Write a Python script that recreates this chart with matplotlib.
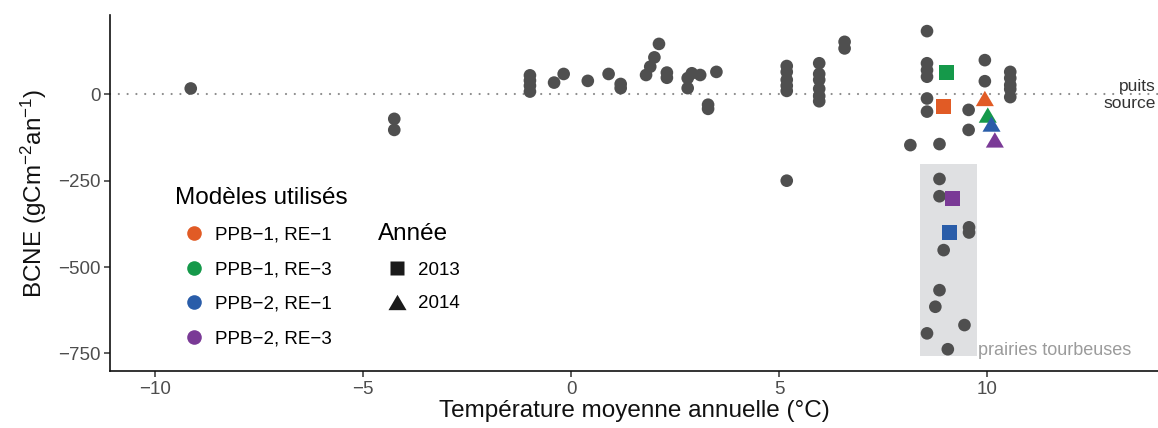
import matplotlib
matplotlib.use('Agg')
import matplotlib.pyplot as plt
from matplotlib.lines import Line2D
from matplotlib.patches import Rectangle

plt.rcParams['font.family'] = ['Liberation Sans', 'DejaVu Sans']
plt.rcParams['mathtext.fontset'] = 'custom'
plt.rcParams['mathtext.rm'] = 'Liberation Sans'
plt.rcParams['mathtext.it'] = 'Liberation Sans:italic'

# sites de la littérature
temp_sites = [-9.14,
              -4.25, -4.25,
              -0.99, -0.99, -0.99, -0.99,
              -0.41, -0.18, 0.40, 0.90, 1.19, 1.19,
              1.80, 1.90, 2.00, 2.11,
              2.30, 2.30,
              2.80, 2.80, 2.90, 3.10,
              3.29, 3.29, 3.49,
              5.18, 5.18, 5.18, 5.18, 5.18, 5.18,
              5.96, 5.96, 5.96, 5.96, 5.96, 5.96,
              6.57, 6.57,
              8.55, 8.55, 8.55, 8.55, 8.55, 8.55,
              8.15, 8.85,
              9.55, 9.55,
              9.94, 9.94,
              10.55, 10.55, 10.55, 10.55, 10.55,
              8.85, 8.85, 9.56, 9.56, 8.95, 8.85, 8.75, 9.45, 8.55, 9.05]
bcne_sites = [17,
              -71, -103,
              55, 40, 25, 8,
              34, 59, 39, 59, 30, 18,
              56, 80, 107, 146,
              63, 48,
              47, 18, 61, 56,
              -30, -42, 65,
              82, 65, 42, 25, 10, -250,
              90, 59, 42, 16, -5, -20,
              152, 133,
              183, 90, 70, 51, -12, -50,
              -147, -144,
              -45, -103,
              99, 38,
              65, 47, 27, 15, -8,
              -245, -295, -385, -400, -451, -567, -615, -668, -692, -738]

# simulations
models = ['PPB−1, RE−1', 'PPB−1, RE−3', 'PPB−2, RE−1', 'PPB−2, RE−3']
model_colors = ['#E15B25', '#15994A', '#2A5DA9', '#7A3A96']
years = ['2013', '2014']
temp_2013 = [8.95, 9.03, 9.10, 9.17]
bcne_2013 = [-34, 64, -400, -301]
temp_2014 = [9.94, 10.01, 10.10, 10.18]
bcne_2014 = [-12, -60, -86, -132]

# zone des prairies tourbeuses
peat_x = [8.37, 9.75]
peat_y = [-757, -202]

tri = [(0, 0.85), (-1, -0.85), (1, -0.85)]
grey = '#4F4F4F'

fig = plt.figure(figsize=(11.58, 4.28), dpi=100)
ax = fig.add_axes([110/1158, 57/428, 1048/1158, 356/428])

ax.add_patch(Rectangle((peat_x[0], peat_y[0]), peat_x[1]-peat_x[0], peat_y[1]-peat_y[0],
                       color='#DFE0E2', lw=0, zorder=1))
ax.axhline(0, color='#8C8C8C', lw=1.6, dashes=(0.01, 3.95), dash_capstyle='round', zorder=0.5)

ax.scatter(temp_sites, bcne_sites, s=9.1**2, color=grey, edgecolors='none', zorder=3)
ax.scatter(temp_2013, bcne_2013, s=10.8**2, marker='s', c=model_colors, edgecolors='none', zorder=4)
ax.scatter(temp_2014, bcne_2014, s=13**2, marker=tri, c=model_colors, edgecolors='none', zorder=4)

ax.text(14.05, 24, 'puits', ha='right', va='center', fontsize=12.5, color='#333333')
ax.text(14.05, -27, 'source', ha='right', va='center', fontsize=12.5, color='#333333')
ax.text(peat_x[1] + 0.03, -743, 'prairies tourbeuses', ha='left', va='center',
        fontsize=13, color='#9B9B9B')

ax.set_xlim(-11.08, 14.1)
ax.set_ylim(-801, 229.7)
ax.set_xticks([-10, -5, 0, 5, 10])
ax.set_yticks([-750, -500, -250, 0])
for s in ['top', 'right']:
    ax.spines[s].set_visible(False)
for s in ['left', 'bottom']:
    ax.spines[s].set_linewidth(1.2)
    ax.spines[s].set_color('#111111')
ax.tick_params(length=4, width=1.1, color='#333333', labelsize=13.5, labelcolor='#4D4D4D', pad=3)

ax.set_xlabel('Température moyenne annuelle (°C)', fontsize=17.5, color='#111111', labelpad=2)
ax.set_ylabel(r'BCNE (gCm$^{-2}$an$^{-1}$)', fontsize=17.5, color='#111111', labelpad=6)

h_models = [Line2D([], [], ls='none', marker='o', ms=10.5, mfc=c, mec='none') for c in model_colors]
h_years = [Line2D([], [], ls='none', marker='s', ms=10.5, mfc='#1A1A1A', mec='none'),
           Line2D([], [], ls='none', marker=tri, ms=13, mfc='#1A1A1A', mec='none')]

leg1 = ax.legend(h_models, models, title='Modèles utilisés', loc='upper left',
                 bbox_to_anchor=(175/1158, 1-187/428), bbox_transform=fig.transFigure,
                 frameon=False, fontsize=13.5, title_fontsize=17.5, alignment='left',
                 borderpad=0, borderaxespad=0, handlelength=2.0, handletextpad=0.15,
                 labelspacing=0.93)
ax.add_artist(leg1)
ax.legend(h_years, years, title='Année', loc='upper left',
          bbox_to_anchor=(378/1158, 1-223/428), bbox_transform=fig.transFigure,
          frameon=False, fontsize=13.5, title_fontsize=17.5, alignment='left',
          borderpad=0, borderaxespad=0, handlelength=2.0, handletextpad=0.15,
          labelspacing=0.88)

fig.savefig('out.png', dpi=100)
